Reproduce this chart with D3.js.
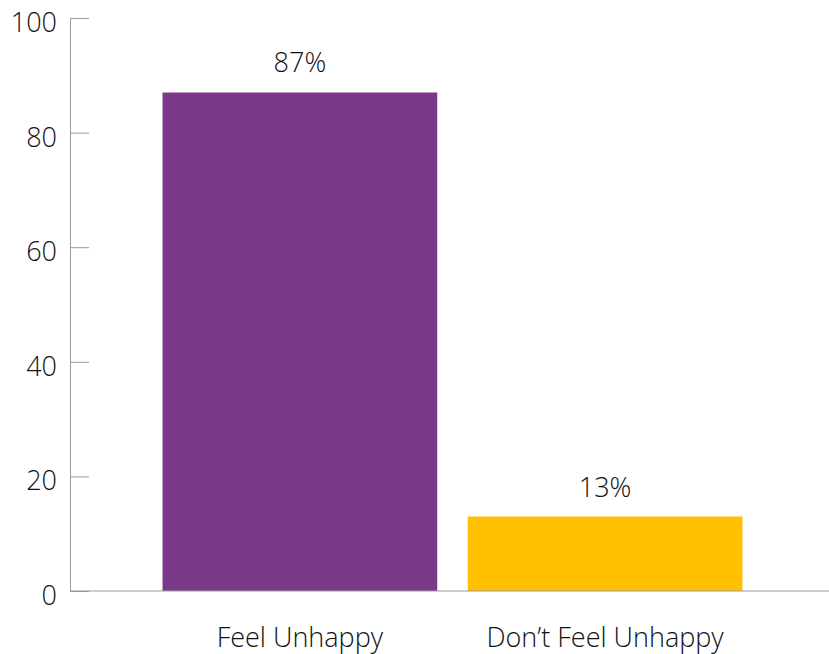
<!DOCTYPE html>
<html>
<head>
<meta charset="utf-8">
<script src="https://cdn.jsdelivr.net/npm/d3@7"></script>
<style>
  html, body { margin: 0; padding: 0; background: #fff; }
  svg { display: block; }
</style>
</head>
<body>
<script>
  const WIDTH = 829, HEIGHT = 654;
  const FONT = "'Open Sans', 'Noto Sans', sans-serif";

  // data
  const categories = ["Feel Unhappy", "Don\u2019t Feel Unhappy"];
  const values     = [87, 13];
  const colors     = ["#7B3A89", "#FFC000"];
  const yTicks     = [0, 20, 40, 60, 80, 100];

  const svg = d3.select("body").append("svg")
    .attr("width", WIDTH)
    .attr("height", HEIGHT);

  const y = d3.scaleLinear().domain([0, 100]).range([591, 18]);
  const x = d3.scaleBand().domain(categories).range([132, 773])
    .paddingInner(0.1).paddingOuter(0.1);

  // bars
  svg.selectAll(".bar")
    .data(values).enter()
    .append("rect")
    .attr("class", "bar")
    .attr("x", (d, i) => x(categories[i]))
    .attr("y", d => y(d))
    .attr("width", x.bandwidth())
    .attr("height", d => y(0) - y(d))
    .attr("fill", (d, i) => colors[i]);

  // value labels
  svg.selectAll(".val")
    .data(values).enter()
    .append("text")
    .attr("class", "val")
    .attr("x", (d, i) => x(categories[i]) + x.bandwidth() / 2)
    .attr("y", d => y(d) - 20)
    .attr("text-anchor", "middle")
    .attr("font-family", FONT)
    .attr("font-weight", 300)
    .attr("font-size", 27)
    .attr("fill", "#111")
    .text(d => d + "%");

  // y axis, ticks pointing right
  const yAxis = svg.append("g")
    .attr("transform", "translate(70,0)")
    .call(d3.axisLeft(y).tickValues(yTicks).tickSize(-19).tickSizeOuter(0).tickPadding(13));
  yAxis.select(".domain").attr("stroke", "#999");
  yAxis.selectAll(".tick line").attr("stroke", "#999");
  yAxis.selectAll(".tick text")
    .attr("font-family", FONT)
    .attr("font-weight", 300)
    .attr("font-size", 27)
    .attr("fill", "#111")
    .attr("dy", "0.5em");

  // baseline
  svg.append("line")
    .attr("x1", 70).attr("x2", WIDTH)
    .attr("y1", y(0)).attr("y2", y(0))
    .attr("stroke", "#999");

  // category labels
  svg.selectAll(".cat")
    .data(categories).enter()
    .append("text")
    .attr("class", "cat")
    .attr("x", d => x(d) + x.bandwidth() / 2)
    .attr("y", 647)
    .attr("text-anchor", "middle")
    .attr("font-family", FONT)
    .attr("font-weight", 300)
    .attr("font-size", 27)
    .attr("fill", "#111")
    .text(d => d);
</script>
</body>
</html>
